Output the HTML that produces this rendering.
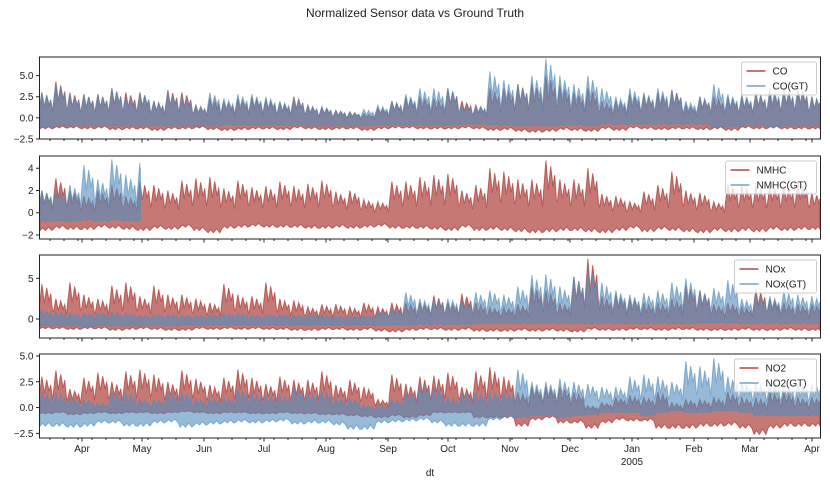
<!DOCTYPE html>
<html><head><meta charset="utf-8"><style>
body{margin:0;background:#fff;font-family:"Liberation Sans",sans-serif}
svg text{font-family:"Liberation Sans",sans-serif;fill:#222}
</style></head><body>
<svg id="chart" width="830" height="487" xmlns="http://www.w3.org/2000/svg">
<rect width="830" height="487" fill="#fff"/>
<text x="415" y="17" font-size="12" text-anchor="middle">Normalized Sensor data vs Ground Truth</text>
<text x="430" y="476" font-size="10" text-anchor="middle">dt</text>
</svg>
<script>
// weekly envelope values (week 0 starts 2004-03-10)
const coHi   =[3.0,4.3,3.0,2.8,2.8,3.5,3.0,3.0,2.0,3.3,3.0,1.5,2.3,2.0,2.3,2.5,2.2,1.8,2.5,1.5,1.3,0.9,0.7,0.5,1.2,2.0,2.5,2.5,2.3,3.5,2.0,1.5,3.5,3.5,4.0,4.0,5.0,3.8,3.0,3.5,2.0,2.0,2.8,2.8,3.0,3.3,1.5,2.5,2.5,2.5,2.5,3.0,3.0,3.3,3.5,2.5];
const coLo   =[-1.3,-1.2,-1.2,-1.3,-1.2,-1.4,-1.3,-1.3,-1.5,-1.3,-1.3,-1.2,-1.4,-1.5,-1.4,-1.3,-1.3,-1.4,-1.2,-1.3,-1.4,-1.3,-1.3,-1.5,-1.3,-1.2,-1.2,-1.3,-1.3,-1.3,-1.2,-1.3,-1.5,-1.4,-1.6,-1.7,-1.6,-1.4,-1.5,-1.6,-1.3,-1.5,-1.2,-1.3,-1.4,-1.3,-1.3,-1.4,-1.3,-1.5,-1.2,-1.3,-1.2,-1.3,-1.3,-1.3];
const coGtHi =[3.0,4.0,2.8,2.8,2.8,3.5,2.5,3.0,2.0,3.0,2.5,1.5,3.0,2.3,2.8,2.8,2.5,2.0,2.3,1.5,1.3,0.9,0.7,1.0,1.5,2.0,2.8,3.5,3.5,3.5,1.5,1.5,5.5,4.5,4.0,5.0,7.0,5.0,4.0,5.0,3.5,2.5,3.5,3.0,3.5,3.3,2.0,2.5,4.0,2.8,2.8,3.0,3.5,3.5,3.5,2.5];
const coGtLo =[-1.2,-1.0,-1.0,-1.0,-1.0,-1.0,-1.0,-1.0,-1.0,-1.0,-1.0,-1.0,-1.0,-0.9,-0.9,-0.9,-0.9,-0.9,-0.9,-1.0,-1.0,-1.0,-1.0,-1.0,-0.9,-0.9,-0.9,-0.9,-0.9,-0.9,-0.8,-0.8,-0.9,-0.9,-1.0,-1.0,-1.0,-0.9,-0.9,-1.0,-0.8,-0.8,-0.8,-0.8,-0.8,-0.8,-0.8,-0.8,-1.2,-1.1,-1.0,-1.0,-1.1,-1.0,-1.0,-1.0];
const nmHi   =[2.0,3.1,2.0,1.5,2.0,2.5,1.5,2.8,2.5,2.0,2.9,3.1,3.2,2.2,2.9,2.3,2.4,2.8,2.4,2.6,2.9,1.9,2.0,1.2,1.0,2.8,2.8,3.2,3.4,3.5,2.0,2.5,4.0,3.7,3.0,3.0,4.7,3.0,3.0,4.0,1.7,1.5,1.0,1.9,2.5,3.7,2.0,1.8,1.0,2.6,2.5,2.5,2.5,2.5,2.8,1.8];
const nmLo   =[-1.6,-1.4,-1.5,-1.5,-1.3,-1.4,-1.5,-1.6,-1.4,-1.5,-1.3,-1.6,-1.8,-1.4,-1.3,-1.2,-1.3,-1.3,-1.3,-1.4,-1.4,-1.3,-1.4,-1.3,-1.2,-1.4,-1.4,-1.4,-1.5,-1.6,-1.3,-1.6,-1.5,-1.6,-1.7,-1.8,-1.7,-1.6,-1.6,-1.7,-1.8,-1.6,-1.4,-1.7,-1.5,-1.6,-1.7,-1.8,-1.6,-1.7,-1.6,-1.7,-1.5,-1.6,-1.5,-1.5];
const nmGtHi =[2.0,2.0,2.5,4.3,3.0,4.8,3.4,4.5];
const nmGtLo =[-0.8,-0.8,-0.8,-0.7,-0.8,-0.7,-0.8,-0.7];
const noxHi  =[4.3,2.5,4.5,3.0,2.5,4.1,4.5,2.8,4.1,3.0,3.0,2.5,2.0,4.3,3.0,2.8,4.5,2.5,2.3,1.5,1.8,1.8,1.5,2.0,1.5,2.0,2.0,2.0,2.9,2.0,3.1,2.0,1.5,1.5,1.8,4.0,3.5,2.0,5.2,7.4,2.8,3.0,2.5,2.0,2.0,2.5,4.1,3.5,1.8,2.0,1.5,3.7,2.5,2.0,1.8,1.8];
const noxLo  =[-1.2,-1.2,-1.3,-1.2,-1.2,-1.4,-1.3,-1.2,-1.3,-1.4,-1.4,-1.2,-1.3,-1.2,-1.3,-1.2,-1.3,-1.3,-1.4,-1.4,-1.3,-1.3,-1.4,-1.3,-1.5,-1.6,-1.4,-1.3,-1.3,-1.4,-1.3,-1.5,-1.5,-1.5,-1.4,-1.5,-1.4,-1.5,-1.6,-1.3,-1.4,-1.4,-1.3,-1.3,-1.4,-1.3,-1.3,-1.4,-1.4,-1.4,-1.3,-1.4,-1.4,-1.3,-1.4,-1.4];
const noxGtHi=[1.0,0.8,0.7,0.7,0.8,0.8,0.7,0.5,0.6,0.6,0.5,0.5,0.6,0.7,0.7,0.5,0.6,0.6,0.5,0.6,0.5,0.4,0.4,0.5,1.0,1.2,3.3,2.5,2.5,2.5,2.3,3.3,3.5,3.0,4.0,5.4,5.5,4.0,5.2,6.0,4.5,3.5,3.0,3.2,3.5,4.5,5.0,3.5,3.8,4.8,2.5,3.0,2.8,3.5,3.0,2.8];
const noxGtLo=[-0.9,-0.9,-0.9,-1.0,-0.9,-0.9,-0.9,-0.9,-0.9,-0.9,-0.8,-0.8,-0.8,-0.8,-0.8,-0.8,-0.8,-0.8,-0.8,-0.8,-0.8,-0.8,-0.8,-0.8,-0.8,-0.8,-0.8,-0.7,-0.7,-0.7,-0.7,-0.6,-0.6,-0.6,-0.6,-0.6,-0.6,-0.6,-0.6,-0.6,-0.6,-0.6,-0.6,-0.6,-0.6,-0.6,-0.6,-0.5,-0.5,-0.5,-0.6,-0.6,-0.6,-0.6,-0.6,-0.6];
const no2Hi  =[3.0,3.6,1.8,2.9,3.4,2.5,3.5,3.7,3.2,2.5,3.6,2.8,2.2,2.9,3.7,2.9,2.3,3.0,2.7,2.7,3.5,2.2,2.7,2.0,0.8,3.2,2.3,3.0,3.1,3.4,2.0,3.5,3.9,3.0,1.5,2.0,2.0,2.0,1.5,0.2,0.5,1.0,1.2,1.0,1.5,0.5,0.8,0.8,1.0,1.5,1.0,1.0,1.5,1.5,1.0,1.0];
const no2Lo  =[-0.6,-0.5,-0.7,-0.6,-0.5,-0.6,-0.5,-0.5,-0.6,-0.5,-0.4,-0.5,-0.6,-0.5,-0.5,-0.6,-0.6,-0.5,-0.6,-0.6,-0.7,-0.7,-0.8,-0.9,-1.0,-0.8,-1.0,-0.8,-0.5,-0.5,-0.5,-1.0,-1.0,-1.0,-1.8,-1.2,-1.0,-1.5,-1.5,-2.0,-1.5,-1.2,-1.3,-1.3,-2.0,-2.0,-2.0,-1.8,-1.8,-1.7,-2.0,-2.6,-2.0,-1.8,-1.8,-1.8];
const no2GtHi=[1.5,1.5,1.0,0.8,0.5,1.5,1.5,0.8,0.8,1.5,1.5,0.9,1.0,1.0,1.8,1.5,1.2,1.2,2.0,1.5,1.6,1.0,0.9,0.3,0.3,0.8,1.5,2.3,2.0,1.0,1.5,1.5,1.5,1.5,3.7,2.5,2.5,2.8,2.5,2.3,2.0,2.0,3.0,3.2,3.0,2.5,4.5,4.0,4.8,3.0,2.5,2.5,2.5,2.3,2.3,2.3];
const no2GtLo=[-1.8,-1.8,-1.9,-1.8,-1.5,-1.5,-1.8,-1.8,-1.5,-1.4,-1.9,-1.7,-1.6,-1.5,-1.4,-1.5,-1.4,-1.3,-1.6,-1.5,-1.5,-1.7,-2.1,-2.1,-1.5,-1.4,-1.3,-1.2,-1.5,-1.8,-1.8,-1.8,-1.2,-1.0,-1.0,-0.8,-0.8,-1.0,-0.8,-0.7,-0.5,-0.5,-0.5,-0.8,-0.5,-0.3,-0.5,-0.5,-0.3,-0.3,-0.5,-0.8,-0.8,-0.8,-0.8,-0.8];
const monthLabels=["Apr","May","Jun","Jul","Aug","Sep","Oct","Nov","Dec","Jan","Feb","Mar","Apr"];
const monthDays=[21.25,51.25,82.25,112.25,143.25,174.25,204.25,235.25,265.25,296.25,327.25,355.25,386.25];
const legendNames=[["CO","CO(GT)"],["NMHC","NMHC(GT)"],["NOx","NOx(GT)"],["NO2","NO2(GT)"]];
const seriesEndDays=[390,390,390,50.5,390,390,390,390];

const svg=document.getElementById('chart');
const NS='http://www.w3.org/2000/svg';
const X0=39.5,X1=820.5,PXD=2.0;
const xDay=d=>X0+d*PXD;
const panels=[
 {top:57,bot:139,vmin:-2.5,vmax:7.2,ticks:[5,2.5,0,-2.5],fmt:1,red:[coHi,coLo],blue:[coGtHi,coGtLo],name:'co'},
 {top:156,bot:239,vmin:-2.36,vmax:5.1,ticks:[4,2,0,-2],fmt:0,red:[nmHi,nmLo],blue:[nmGtHi,nmGtLo],name:'nmhc'},
 {top:255,bot:338,vmin:-2.34,vmax:7.87,ticks:[5,0],fmt:0,red:[noxHi,noxLo],blue:[noxGtHi,noxGtLo],name:'nox'},
 {top:354,bot:438,vmin:-2.95,vmax:5.19,ticks:[5,2.5,0,-2.5],fmt:1,red:[no2Hi,no2Lo],blue:[no2GtHi,no2GtLo],name:'no2'}];
function mk(tag,attrs,parent){const e=document.createElementNS(NS,tag);for(const k in attrs)e.setAttribute(k,attrs[k]);(parent||svg).appendChild(e);return e;}
// in-week shape multipliers (visual texture only)
const TOPF=[[0,0.45],[1.2,1],[2.4,0.5],[3.6,0.9],[4.8,0.55],[5.6,0.75],[6.5,0.3]];
const BOTF=[[6.2,1],[4.5,0.8],[3,1],[1.5,0.85],[0.3,1]];
panels.forEach((p,pi)=>{
 const y=v=>p.bot-(v-p.vmin)/(p.vmax-p.vmin)*(p.bot-p.top);
 const g=mk('g',{});
 
 
 const cid='clip'+pi;
 const cp=mk('clipPath',{id:cid},g);mk('rect',{x:X0,y:p.top,width:X1-X0,height:p.bot-p.top},cp);
 function band(arr,col,op,nm,endDay){
  const hi=arr[0],lo=arr[1];let pts=[];
  hi.forEach((v,i)=>{TOPF.forEach(f=>{const d=Math.min(i*7+f[0],endDay);pts.push([xDay(d),y(v*f[1]+lo[i]*(1-f[1])*0.3)]);});});
  for(let i=lo.length-1;i>=0;i--){BOTF.forEach(f=>{const d=Math.min(i*7+f[0],endDay);pts.push([xDay(d),y(lo[i]*f[1])]);});}
  const e=mk('polygon',{points:pts.map(q=>q[0].toFixed(1)+','+q[1].toFixed(1)).join(' '),fill:col,'fill-opacity':op,stroke:col,'stroke-opacity':op,'stroke-width':1,'clip-path':'url(#'+cid+')'},g);
  
  
 }
 band(p.red,'rgb(168,48,43)',0.65,p.name+'-sensor-series',seriesEndDays[pi*2]);
 band(p.blue,'rgb(80,140,190)',0.6,p.name+'-gt-series',seriesEndDays[pi*2+1]);
 const fr=mk('rect',{x:X0,y:p.top,width:X1-X0,height:p.bot-p.top,fill:'none',stroke:'#222','stroke-width':1},g);
 
 
 p.ticks.forEach(t=>{
  const ty=y(t);
  mk('line',{x1:X0-3.5,x2:X0,y1:ty,y2:ty,stroke:'#222'},g);
  const tx=mk('text',{x:X0-6,y:ty+3.5,'font-size':10,'text-anchor':'end'},g);
  tx.textContent=(t<0?'\u2212':'')+Math.abs(t).toFixed(p.fmt);
  
  
 });
 for(let d=5.25;d<390;d+=7) mk('line',{x1:xDay(d),x2:xDay(d),y1:p.bot,y2:p.bot+2,stroke:'#222'},g);
 monthDays.forEach((d,i)=>{
  mk('line',{x1:xDay(d),x2:xDay(d),y1:p.bot,y2:p.bot+3.5,stroke:'#222'},g);
  if(pi===3){
   const tx=mk('text',{x:xDay(d),y:p.bot+14,'font-size':10,'text-anchor':'middle'},g);
   tx.textContent=monthLabels[i];
   
   
  }
 });
 if(pi===3){const t=mk('text',{x:xDay(monthDays[9]),y:p.bot+27,'font-size':10,'text-anchor':'middle'},g);t.textContent='2005';
  
  }
 const names=legendNames[pi];const lw=pi===1?91:(pi===0?75:82);
 const lx=X1-4-lw,ly=p.top+5;
 const lg=mk('g',{},g);
 
 
 mk('rect',{x:lx,y:ly,width:lw,height:33,rx:2,fill:'#fff','fill-opacity':0.8,stroke:'#ccc'},lg);
 ['rgb(193,120,117)','rgb(150,185,215)'].forEach((c,k)=>{
  const yy=ly+9+k*15;
  mk('line',{x1:lx+5,x2:lx+24,y1:yy,y2:yy,stroke:c,'stroke-width':2},lg);
  const t=mk('text',{x:lx+31,y:yy+3.5,'font-size':10},lg);t.textContent=names[k];
  
  
 });
});
</script>
</body></html>
